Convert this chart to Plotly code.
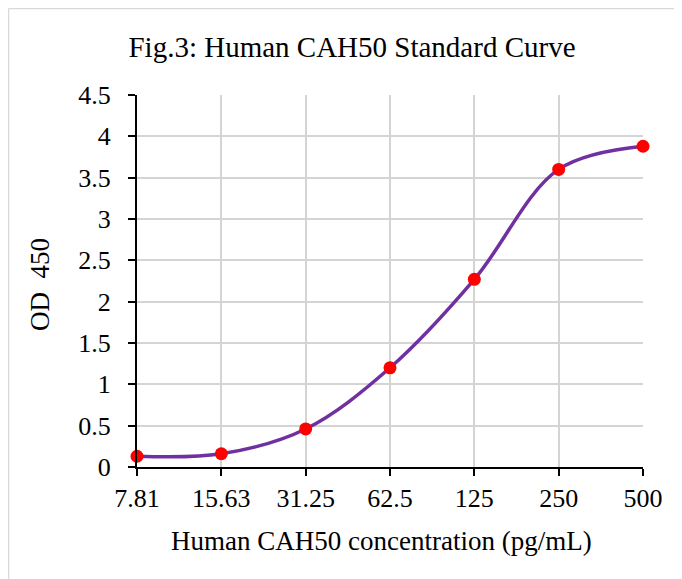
import plotly.graph_objects as go

concentrations = ["7.81", "15.63", "31.25", "62.5", "125", "250", "500"]
od_values = [0.13, 0.16, 0.46, 1.20, 2.27, 3.60, 3.88]
y_ticks = [0, 0.5, 1, 1.5, 2, 2.5, 3, 3.5, 4, 4.5]
y_tick_text = ["0", "0.5", "1", "1.5", "2", "2.5", "3", "3.5", "4", "4.5"]

W, H = 682, 579
OFF = 8  # page body margin offset
# target screenshot pixel positions of the plot area
SX0, SX1, SY0, SY1 = 137, 643, 95, 467
L, T = SX0 - OFF, SY0 - OFF
R, B = W - (SX1 - OFF), H - (SY1 - OFF)
pw, ph = W - L - R, H - T - B

def px_x(p):
    return (p - OFF - L) / pw

def px_y(p):
    return (H - B - (p - OFF)) / ph

FONT = "Liberation Serif, Times New Roman, serif"
xs = list(range(len(concentrations)))

fig = go.Figure()
fig.add_trace(go.Scatter(
    x=xs, y=od_values, mode="lines+markers",
    line=dict(color="#7030A0", width=3.5, shape="spline", smoothing=1.0),
    marker=dict(color="#FF0000", size=13),
    cliponaxis=False, showlegend=False,
))

fig.update_layout(
    width=W, height=H,
    margin=dict(l=L, r=R, t=T, b=B),
    paper_bgcolor="white", plot_bgcolor="white",
    font=dict(family=FONT, color="black", size=26),
    title=dict(text="Fig.3: Human CAH50 Standard Curve", font=dict(size=29, family=FONT, color="black"),
               x=(352 - OFF) / W, xref="container", xanchor="center",
               y=1 - (47 - OFF) / H, yref="container", yanchor="middle"),
    xaxis=dict(range=[0, 6], tickmode="array", tickvals=xs, ticktext=concentrations,
               showgrid=True, gridcolor="#d4d4d4", gridwidth=1.6,
               showline=True, linecolor="black", linewidth=2,
               ticks="outside", ticklen=7, tickwidth=2, tickcolor="black",
               tickfont=dict(size=26, family=FONT), zeroline=False, fixedrange=True),
    yaxis=dict(range=[0, 4.5], tickmode="array", tickvals=y_ticks, ticktext=y_tick_text,
               showgrid=True, gridcolor="#d4d4d4", gridwidth=1.6,
               showline=True, linecolor="black", linewidth=2,
               ticks="outside", ticklen=7, tickwidth=2, tickcolor="black",
               ticklabelstandoff=12,
               tickfont=dict(size=26, family=FONT), zeroline=False, fixedrange=True),
    annotations=[
        dict(text="Human CAH50 concentration (pg/mL)", xref="paper", yref="paper",
             x=px_x(381.5), y=px_y(541), xanchor="center", yanchor="middle",
             showarrow=False, font=dict(size=27, family=FONT, color="black")),
        dict(text="OD\u00a0\u00a0450", xref="paper", yref="paper",
             x=px_x(40), y=px_y(285), xanchor="center", yanchor="middle", textangle=-90,
             showarrow=False, font=dict(size=27, family=FONT, color="black")),
    ],
    shapes=[
        dict(type="line", xref="paper", yref="paper", x0=px_x(8.5), x1=px_x(8.5),
             y0=px_y(8.5), y1=px_y(620), line=dict(color="#d9d9d9", width=1.5)),
        dict(type="line", xref="paper", yref="paper", x0=px_x(8.5), x1=px_x(720),
             y0=px_y(8.5), y1=px_y(8.5), line=dict(color="#d9d9d9", width=1.5)),
    ],
)

fig.write_html("out.html", config={"displayModeBar": False})
